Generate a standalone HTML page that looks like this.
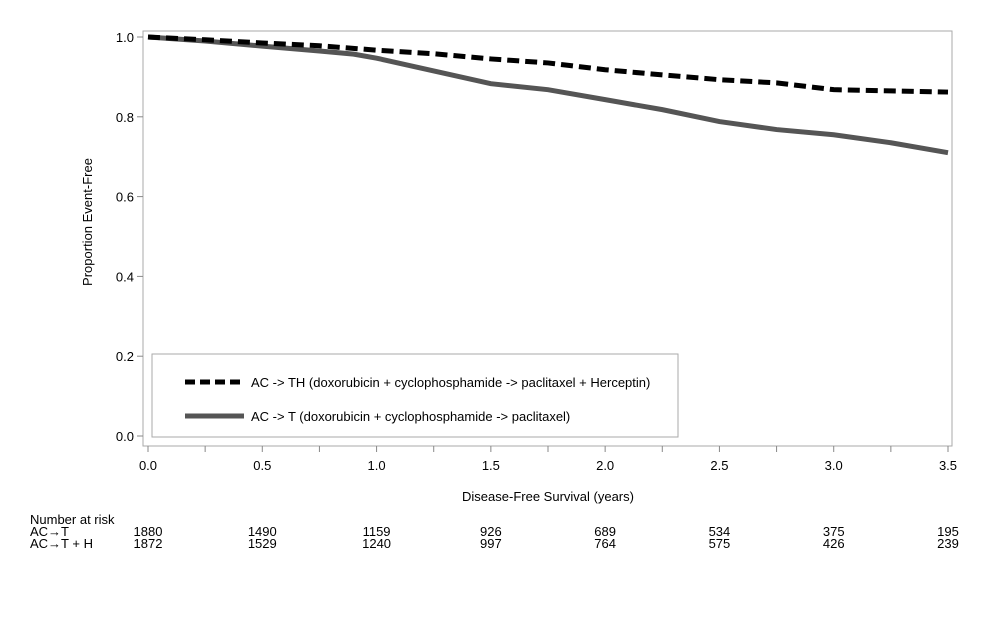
<!DOCTYPE html>
<html><head><meta charset="utf-8"><style>
body{margin:0;background:#fff;}
svg text{font-family:"Liberation Sans",Arial,sans-serif;fill:#000;}
</style></head><body>
<svg id="c" width="999" height="624" xmlns="http://www.w3.org/2000/svg"></svg>
<script>
const xTicks=[0,0.5,1.0,1.5,2.0,2.5,3.0,3.5];
const yTicks=[0,0.2,0.4,0.6,0.8,1.0];
const thTimes=[0,0.25,0.5,0.75,1.0,1.25,1.5,1.75,2.0,2.25,2.5,2.75,3.0,3.25,3.5];
const thValues=[1.0,0.993,0.985,0.978,0.967,0.958,0.945,0.935,0.918,0.905,0.893,0.885,0.868,0.865,0.862];
const tTimes=[0,0.25,0.5,0.75,0.9,1.0,1.25,1.5,1.75,2.0,2.25,2.5,2.75,3.0,3.25,3.5];
const tValues=[1.0,0.99,0.977,0.965,0.957,0.947,0.915,0.883,0.868,0.843,0.818,0.788,0.768,0.755,0.735,0.71];
const riskT=[1880,1490,1159,926,689,534,375,195];
const riskTH=[1872,1529,1240,997,764,575,426,239];
const NS="http://www.w3.org/2000/svg";
const svg=document.getElementById('c');
const X=v=>148+v*(800/3.5);
const Y=v=>436-v*399;
function mk(tag,attrs,txt){const e=document.createElementNS(NS,tag);for(const k in attrs)e.setAttribute(k,attrs[k]);if(txt!==undefined)e.textContent=txt;svg.appendChild(e);return e;}
let e;
e=mk('rect',{x:143,y:31,width:809,height:415,fill:'none',stroke:'#aaa','stroke-width':1});


yTicks.forEach(v=>{
 e=mk('line',{x1:137,x2:143,y1:Y(v),y2:Y(v),stroke:'#888'});
 
 
 e=mk('text',{x:134,y:Y(v)+5,'text-anchor':'end','font-size':13},v.toFixed(1));
 
 
});
for(let v=0;v<=3.5001;v+=0.25){
 e=mk('line',{x1:X(v),x2:X(v),y1:446,y2:452,stroke:'#888'});
 
 
}
xTicks.forEach((v,i)=>{
 e=mk('text',{x:X(v),y:470,'text-anchor':'middle','font-size':13},v.toFixed(1));
 
 
 e=mk('text',{x:X(v),y:536,'text-anchor':'middle','font-size':13},riskT[i]);
 
 
 e=mk('text',{x:X(v),y:548,'text-anchor':'middle','font-size':13},riskTH[i]);
 
 
});
e=mk('text',{x:548,y:501,'text-anchor':'middle','font-size':13},'Disease-Free Survival (years)');


e=mk('text',{x:0,y:0,'text-anchor':'middle','font-size':13,transform:'translate(92,222) rotate(-90)'},'Proportion Event-Free');


function stepPath(ts,vs){let d='M'+X(ts[0])+','+Y(vs[0]);for(let i=1;i<ts.length;i++){d+=' L'+X(ts[i])+','+Y(vs[i]);}return d;}
e=mk('path',{d:stepPath(tTimes,tValues),fill:'none',stroke:'#555','stroke-width':5});


e=mk('path',{d:stepPath(thTimes,thValues),fill:'none',stroke:'#000','stroke-width':5,'stroke-dasharray':'12,6'});


e=mk('rect',{x:152,y:354,width:526,height:83,fill:'#fff',stroke:'#aaa'});


e=mk('line',{x1:185,x2:244,y1:382,y2:382,stroke:'#000','stroke-width':5,'stroke-dasharray':'10,5'});


e=mk('text',{x:251,y:387,'font-size':13},'AC -> TH (doxorubicin + cyclophosphamide -> paclitaxel + Herceptin)');


e=mk('line',{x1:185,x2:244,y1:416,y2:416,stroke:'#555','stroke-width':5});


e=mk('text',{x:251,y:421,'font-size':13},'AC -> T (doxorubicin + cyclophosphamide -> paclitaxel)');


e=mk('text',{x:30,y:524,'font-size':13},'Number at risk');


e=mk('text',{x:30,y:536,'font-size':13},'AC\u2192T');


e=mk('text',{x:30,y:548,'font-size':13},'AC\u2192T + H');


</script>
</body></html>
